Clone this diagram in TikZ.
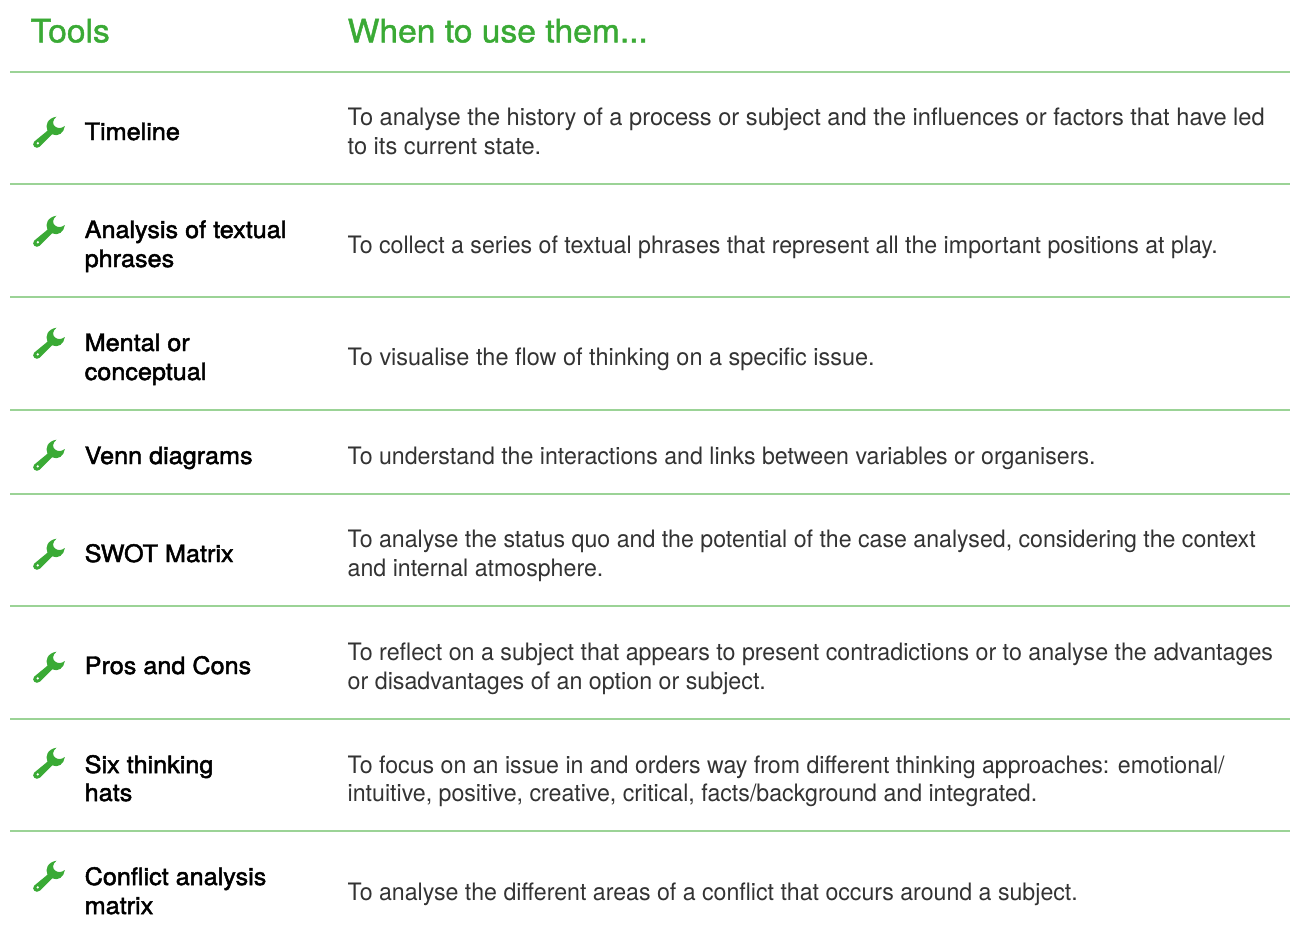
\documentclass[tikz,border=0pt]{standalone}
\usepackage{fontspec}
\setmainfont{TeX Gyre Heros}
\newfontfamily\toolfont[FakeBold=2,FakeStretch=1.05]{TeX Gyre Heros}
\newfontfamily\headfont[FakeBold=1.4,FakeStretch=1.05]{TeX Gyre Heros}
\newfontfamily\bodyfont[FakeStretch=0.965]{TeX Gyre Heros}
\newfontfamily\bodywide[FakeStretch=0.985]{TeX Gyre Heros}
\newfontfamily\bodymid[FakeStretch=0.978]{TeX Gyre Heros}
\newfontfamily\bodyalt[FakeStretch=0.969]{TeX Gyre Heros}
\definecolor{brandgreen}{HTML}{3AAA35}
\definecolor{rulegreen}{HTML}{9BD396}
\definecolor{bodyink}{HTML}{333333}
\tikzset{
  headtext/.style={anchor=base west,inner sep=0pt,text=brandgreen,font=\headfont\fontsize{32}{36}\selectfont},
  tooltext/.style={anchor=base west,inner sep=0pt,align=left,text=black,font=\toolfont\fontsize{24}{29}\selectfont},
  usetext/.style={anchor=base west,inner sep=0pt,align=left,text=bodyink,font=\bodyfont\fontsize{24}{29}\selectfont},
  rowrule/.style={draw=rulegreen,line width=1.3pt},
  wrench/.pic={
    \begin{scope}[x=0.3333pt,y=-0.3333pt]
    \fill[brandgreen,even odd rule]
      (38,125) -- (78,92) .. controls (70,75) and (78,55) .. (105,50)
      .. controls (93,60) and (92,72) .. (100,79)
      .. controls (108,86) and (120,86) .. (130,78)
      .. controls (128,98) and (110,112) .. (92,103)
      -- (55,140) .. controls (44,150) and (28,136) .. (38,125) -- cycle
      (49,130) circle[radius=4.5];
    \end{scope}
  }
}
\begin{document}
\begin{tikzpicture}[x=1pt,y=-1pt]
\useasboundingbox (0,0) rectangle (1290,934);
\node[headtext] (h1) at (30.5,42.3) {Tools};
\node[headtext] (h2) at (347.5,42.3) {When to use them...};
\foreach \y in {72,184,297,410,494,606,719,831}
  \draw[rowrule] (10,\y) -- (1290,\y);
\foreach \y in {100,199,311,423,522,635,731,844}
  \pic at (21.5,\y) {wrench};
\node[tooltext] (t1) at (84.5,140) {Timeline};
\node[tooltext] (t2) at (84.5,267) {Analysis of textual\\phrases};
\node[tooltext] (t3) at (84.5,380) {Mental or\\conceptual};
\node[tooltext] (t4) at (84.5,464) {Venn diagrams};
\node[tooltext] (t5) at (84.5,562) {SWOT Matrix};
\node[tooltext] (t6) at (84.5,674) {Pros and Cons};
\node[tooltext,font=\toolfont\fontsize{24}{28}\selectfont] (t7) at (84.5,801) {Six thinking\\hats};
\node[tooltext] (t8) at (84.5,914) {Conflict analysis\\matrix};
\node[usetext,font=\bodywide\fontsize{24}{29}\selectfont] (u1) at (347.5,154) {To analyse the history of a process or subject and the influences or factors that have led\\to its current state.};
\node[usetext] (u2) at (347.5,253) {To collect a series of textual phrases that represent all the important positions at play.};
\node[usetext,font=\bodymid\fontsize{24}{29}\selectfont] (u3) at (347.5,365) {To visualise the flow of thinking on a specific issue.};
\node[usetext] (u4) at (347.5,464) {To understand the interactions and links between variables or organisers.};
\node[usetext] (u5) at (347.5,576) {To analyse the status quo and the potential of the case analysed, considering the context\\and internal atmosphere.};
\node[usetext,font=\bodyalt\fontsize{24}{29}\selectfont] (u6) at (347.5,689) {To reflect on a subject that appears to present contradictions or to analyse the advantages\\or disadvantages of an option or subject.};
\node[usetext,font=\bodyfont\fontsize{24}{28}\selectfont] (u7) at (347.5,801) {To focus on an issue in and orders way from different thinking approaches: emotional/\\intuitive, positive, creative, critical, facts/background and integrated.};
\node[usetext] (u8) at (347.5,900) {To analyse the different areas of a conflict that occurs around a subject.};
\end{tikzpicture}
\end{document}
